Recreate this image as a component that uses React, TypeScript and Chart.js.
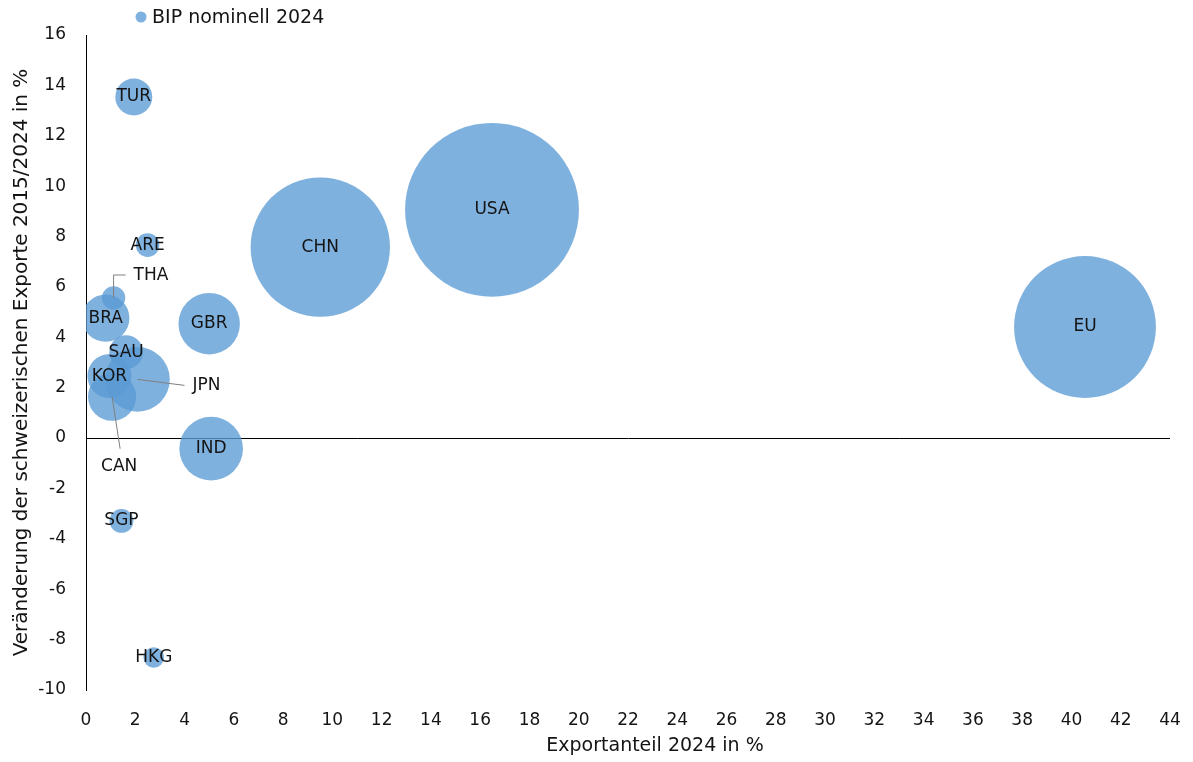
import { useEffect, useRef } from "react";
import { Chart, registerables } from "chart.js";
Chart.register(...registerables);

const countries = ["TUR", "ARE", "THA", "BRA", "GBR", "SAU", "KOR", "JPN", "CAN", "IND", "SGP", "HKG", "CHN", "USA", "EU"];
const exportShare = [1.94, 2.5, 1.12, 0.8, 5.0, 1.63, 0.95, 2.09, 1.06, 5.08, 1.44, 2.75, 9.51, 16.48, 40.55];
const exportGrowth = [13.54, 7.66, 5.56, 4.76, 4.54, 3.41, 2.46, 2.33, 1.64, -0.42, -3.29, -8.71, 7.58, 9.06, 4.41];
const gdpNominal = [1320, 537, 527, 2170, 3640, 1100, 1870, 4030, 2240, 3910, 547, 407, 18740, 29180, 19420];

const seriesLabel = "BIP nominell 2024";
const xTitle = "Exportanteil 2024 in %";
const yTitle = "Veränderung der schweizerischen Exporte 2015/2024 in %";

const FONT = "'DejaVu Sans', sans-serif";
const TEXT = "#141414";
const FILL = "rgba(91,155,213,0.78)";
const BUBBLE_SCALE = 0.509;

// leader-line callouts (pixel offsets from bubble centre)
const callouts: Record<string, { line: [number, number][]; text: [number, number]; align: CanvasTextAlign }> = {
  THA: { line: [[0, 0], [0, -23], [12, -23]], text: [20, -22], align: "left" },
  JPN: { line: [[0, 0], [47, 6]], text: [55, 6], align: "left" },
  CAN: { line: [[0, 0], [8, 52]], text: [7, 70], align: "center" },
};

export default function App() {
  const ref = useRef<HTMLCanvasElement>(null);
  useEffect(() => {
    if (!ref.current) return;
    const labelPlugin = {
      id: "bubbleLabels",
      afterDatasetsDraw(chart: any) {
        const ctx = chart.ctx;
        const meta = chart.getDatasetMeta(0);
        ctx.save();
        ctx.font = `17px ${FONT}`;
        ctx.fillStyle = TEXT;
        ctx.textBaseline = "middle";
        meta.data.forEach((el: any, i: number) => {
          const name = countries[i];
          const c = callouts[name];
          if (c) {
            ctx.strokeStyle = "#7f7f7f";
            ctx.lineWidth = 1;
            ctx.beginPath();
            c.line.forEach(([dx, dy], k) => {
              if (k === 0) ctx.moveTo(el.x + dx, el.y + dy);
              else ctx.lineTo(el.x + dx, el.y + dy);
            });
            ctx.stroke();
            ctx.textAlign = c.align;
            ctx.fillText(name, el.x + c.text[0], el.y + c.text[1]);
          } else {
            ctx.textAlign = "center";
            ctx.fillText(name, el.x, el.y);
          }
        });
        ctx.restore();
      },
      afterDraw(chart: any) {
        const ctx = chart.ctx;
        ctx.save();
        // legend
        ctx.fillStyle = FILL;
        ctx.beginPath();
        ctx.arc(141, 17, 5.5, 0, Math.PI * 2);
        ctx.fill();
        ctx.fillStyle = TEXT;
        ctx.font = `19px ${FONT}`;
        ctx.textAlign = "left";
        ctx.textBaseline = "middle";
        ctx.fillText(seriesLabel, 152, 18);
        // x axis title
        ctx.textAlign = "center";
        ctx.fillText(xTitle, 655, 746);
        ctx.restore();
      },
    };

    const chart = new Chart(ref.current, {
      type: "bubble",
      data: {
        datasets: [
          {
            label: seriesLabel,
            data: countries.map((_, i) => ({
              x: exportShare[i],
              y: exportGrowth[i],
              r: BUBBLE_SCALE * Math.sqrt(gdpNominal[i]),
            })),
            backgroundColor: FILL,
            borderWidth: 0,
            hoverBorderWidth: 0,
            clip: 0,
          } as any,
        ],
      },
      options: {
        animation: false,
        responsive: false,
        events: [],
        layout: { autoPadding: false, padding: { top: 35, right: 23, left: 0, bottom: 0 } },
        plugins: {
          legend: { display: false },
          tooltip: { enabled: false },
        },
        scales: {
          x: {
            type: "linear",
            min: 0,
            max: 44,
            afterFit: (s: any) => {
              s.height = 72;
            },
            ticks: { stepSize: 2, font: { size: 17, family: FONT }, color: TEXT, padding: 12, maxRotation: 0, autoSkip: false },
            grid: { display: false },
            border: { display: false },
          },
          y: {
            type: "linear",
            min: -10,
            max: 16,
            afterFit: (s: any) => {
              s.width = 86;
            },
            ticks: { stepSize: 2, font: { size: 17, family: FONT }, color: TEXT, padding: 20, autoSkip: false },
            grid: {
              drawTicks: false,
              color: (c: any) => (c.tick && c.tick.value === 0 ? "#000" : "rgba(0,0,0,0)"),
              lineWidth: 1,
            },
            border: { display: true, color: "#000", width: 1 },
            title: {
              display: true,
              text: yTitle,
              font: { size: 20, family: FONT },
              color: TEXT,
              padding: { top: 10, bottom: 0 },
            },
          },
        },
      },
      plugins: [labelPlugin],
    });
    return () => chart.destroy();
  }, []);

  return (
    <div style={{ position: "fixed", left: 0, top: 0, width: 1193, height: 762, background: "#fff" }}>
      <canvas ref={ref} width={1193} height={762} style={{ display: "block" }} />
    </div>
  );
}
